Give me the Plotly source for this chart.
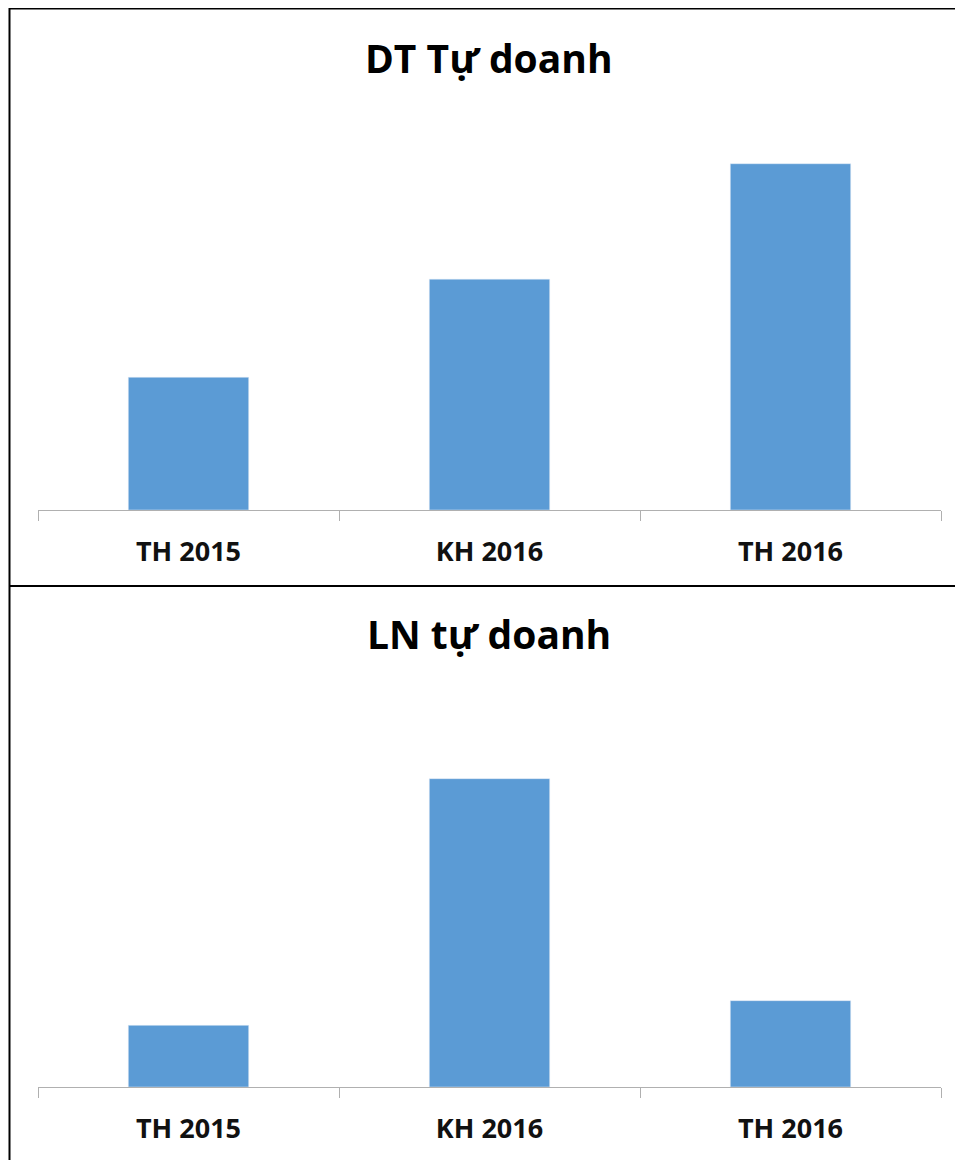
import plotly.graph_objects as go

# Data
categories = ["TH 2015", "KH 2016", "TH 2016"]
dt_values = [11.5, 20, 30]     # DT Tự doanh
ln_values = [5, 25, 7]         # LN tự doanh
titles = ["DT Tự doanh", "LN tự doanh"]

W, H = 963, 1160
OFF = 8  # page body margin offset
BAR_COLOR = "#5B9BD5"
AXIS_GRAY = "#B0B0B0"
FONT = "Open Sans"


def px(x):
    return (x - OFF) / W


def py(y):
    return 1 - (y - OFF) / H


fig = go.Figure()

fig.add_trace(go.Bar(x=categories, y=dt_values, marker_color=BAR_COLOR,
                     width=0.4, xaxis="x", yaxis="y", hoverinfo="x+y"))
fig.add_trace(go.Bar(x=categories, y=ln_values, marker_color=BAR_COLOR,
                     width=0.4, xaxis="x2", yaxis="y2", hoverinfo="x+y"))

xaxis_style = dict(
    type="category", range=[-0.5, 2.5], domain=[px(38), px(941)],
    showline=True, linecolor=AXIS_GRAY, linewidth=1,
    ticks="outside", tickson="boundaries", ticklen=10, tickcolor=AXIS_GRAY,
    tickfont=dict(family=FONT, size=27, color="#111111", weight="bold"),
    ticklabelstandoff=18,
    showgrid=False, zeroline=False, fixedrange=True,
)
yaxis_style = dict(visible=False, showgrid=False, zeroline=False, fixedrange=True)

fig.update_layout(
    width=W, height=H,
    margin=dict(l=0, r=0, t=0, b=0),
    paper_bgcolor="white", plot_bgcolor="white",
    showlegend=False,
    xaxis=dict(xaxis_style, anchor="y"),
    yaxis=dict(yaxis_style, anchor="x", domain=[py(510), py(106)], range=[0, 35]),
    xaxis2=dict(xaxis_style, anchor="y2"),
    yaxis2=dict(yaxis_style, anchor="x2", domain=[py(1087), py(717)], range=[0, 30]),
)

# Titles
for t, yc in zip(titles, [57.5, 633.5]):
    fig.add_annotation(text="<b>" + t + "</b>", x=px(489), y=py(yc),
                       xref="paper", yref="paper", showarrow=False,
                       xanchor="center", yanchor="middle",
                       font=dict(family=FONT, size=39, color="#000000"))

# Frame lines
border = dict(color="#000000", width=2)
fig.add_shape(type="line", xref="paper", yref="paper",
              x0=px(9), x1=1, y0=py(8.5), y1=py(8.5), line=border)
fig.add_shape(type="line", xref="paper", yref="paper",
              x0=px(9), x1=1, y0=py(586), y1=py(586), line=border)
fig.add_shape(type="line", xref="paper", yref="paper",
              x0=px(9.5), x1=px(9.5), y0=py(8), y1=0, line=border)

fig.write_html("out.html")
